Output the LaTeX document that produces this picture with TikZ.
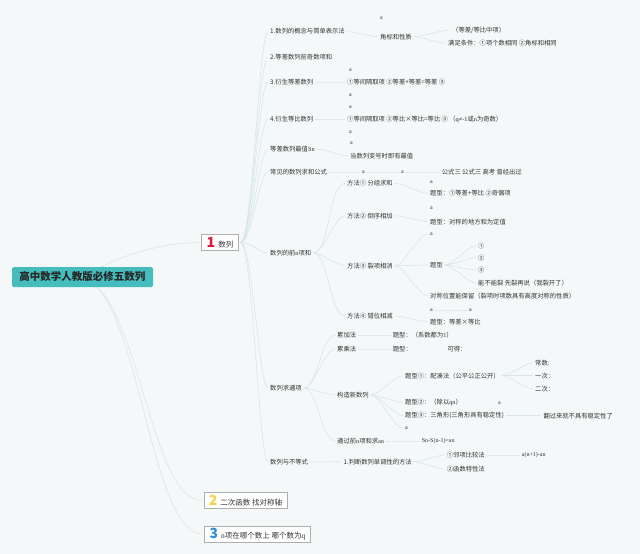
\documentclass[tikz,border=0pt]{standalone}
\usepackage{fontspec}
\setmainfont{Noto Sans CJK SC}
\newfontfamily\latf{Liberation Serif}
\definecolor{bgc}{HTML}{F4F8F8}
\definecolor{lin}{HTML}{D8E6E6}
\definecolor{txt}{HTML}{333333}
\definecolor{rootc}{HTML}{45BDBD}
\definecolor{boxb}{HTML}{AFAFAF}
\definecolor{cone}{HTML}{E2163F}
\definecolor{ctwo}{HTML}{F3D14A}
\definecolor{cthree}{HTML}{2D8FDB}
\pgfdeclarelayer{back}
\pgfdeclarelayer{bg}
\pgfsetlayers{back,bg,main}
\tikzset{
  tx/.style={anchor=west, inner sep=0pt, font=\fontsize{6.3}{7}\selectfont, text=txt},
  txa/.style={anchor=west, inner sep=0pt, font=\fontsize{6}{7}\latf, text=txt},
  conn/.style={draw=lin, line width=0.6pt, shorten <=2pt, shorten >=2pt},
  rootbox/.style={fill=rootc, rounded corners=1.5pt, minimum width=141pt, minimum height=20pt, inner sep=0pt, font=\fontsize{10.5}{11}\bfseries, text=black!85},
  numbox/.style={draw=boxb, fill=white, line width=0.5pt, inner xsep=5pt, inner ysep=0pt, minimum height=16pt, font=\fontsize{7.5}{8}\selectfont, text=txt},
}
\newcommand\lk[2]{\draw[conn] (#1.east) to[out=0,in=180,looseness=0.6] (#2.west);}
\newcommand\spineto[1]{\draw[conn] (bone.east) .. controls +(14,0) and +(-11,0) .. (#1.west);}
\newcommand\numf{\fontsize{14}{14}\bfseries}
\begin{document}
\begin{tikzpicture}[x=1pt,y=-1pt]
\begin{pgfonlayer}{back}
\fill[bgc] (0,0) rectangle (640,554);
\end{pgfonlayer}
\useasboundingbox (0,0) rectangle (640,554);

% root and main boxes
\node[rootbox] (root) at (82.5,277) {高中数学人教版必修五数列};
\node[numbox] (bone) at (220,242.5) {{\numf\color{cone}1}\hspace{3pt}数列};
\node[numbox] (btwo) at (245.5,500.5) {{\numf\color{ctwo}2}\hspace{3pt}二次函数 找对称轴};
\node[numbox] (bthree) at (257.5,534) {{\numf\color{cthree}3}\hspace{3pt}{\latf n}项在哪个数上 哪个数为{\latf q}};

% level 1
\node[tx] (n1) at (270,31.5) {1.数列的概念与简单表示法};
\node[tx] (n2) at (270,57) {2.等差数列前奇数项和};
\node[tx] (n3) at (270,82) {3.衍生等差数列};
\node[tx] (n4) at (270,119) {4.衍生等比数列};
\node[tx] (n5) at (270,149) {等差数列最值{\latf Sn}};
\node[tx] (n6) at (270,172) {常见的数列求和公式};
\node[tx] (n7) at (270,253) {数列的前{\latf n}项和};
\node[tx] (n8) at (270,388) {数列求通项};
\node[tx] (n9) at (270,462) {数列与不等式};

% branch 1
\node[txa] (n1a) at (380,17.7) {a};
\node[tx] (n1b) at (380,36.7) {角标和性质};
\node[tx] (n1b1) at (452,30) {（等差/等比中项）};
\node[tx] (n1b2) at (448,43.3) {满足条件：①项个数相同 ②角标和相同};

% branch 3, 4
\node[txa] (n3a) at (349,70) {a};
\node[tx] (n3b) at (347,82) {①等间隔取项 ②等差+等差=等差 ③};
\node[txa] (n3c) at (349,95) {a};
\node[txa] (n4a) at (349,107.3) {a};
\node[tx] (n4b) at (347,119) {①等间隔取项 ②等比×等比=等比 ③ （{\latf q≠-1}或{\latf n}为奇数）};
\node[txa] (n4c) at (349,131.7) {a};

% branch 5, 6
\node[txa] (n5a) at (350,143.3) {a};
\node[tx] (n5b) at (350,156) {当数列变号时即有最值};
\node[txa] (n6a) at (362,172) {a};
\node[txa] (n6b) at (401,172) {a};
\node[tx] (n6c) at (441.7,172) {公式三 公式三 高考 曾经出过};

% branch 7
\node[tx] (m1) at (347,183.3) {方法① 分组求和};
\node[txa] (m1a) at (430,182.3) {a};
\node[tx] (m1b) at (430,193.3) {题型：①等差+等比 ②奇偶项};
\node[tx] (m2) at (347,215.7) {方法② 倒序相加};
\node[txa] (m2a) at (430,208.3) {a};
\node[tx] (m2b) at (430,221.7) {题型：对称的地方和为定值};
\node[tx] (m3) at (347,265.7) {方法③ 裂项相消};
\node[txa] (m3a) at (430,234) {a};
\node[tx] (m3b) at (430,265) {题型};
\node[tx] (m3b1) at (478,245.7) {①};
\node[tx] (m3b2) at (478,257.7) {②};
\node[tx] (m3b3) at (478,270) {③};
\node[tx] (m3b4) at (478,283.3) {能不能裂 先裂再说（我裂开了）};
\node[tx] (m3c) at (430,296) {对称位置能保留（裂项时项数具有高度对称的性质）};
\node[tx] (m4) at (347,316) {方法④ 错位相减};
\node[txa] (m4a) at (430,310) {a};
\node[txa] (m4b) at (469,310) {a};
\node[tx] (m4c) at (430,321.7) {题型：等差×等比};

% branch 8
\node[tx] (p1) at (337,335) {累加法};
\node[tx] (p1a) at (392.7,335) {题型：（系数都为{\latf 1}）};
\node[tx] (p2) at (337,349) {累乘法};
\node[tx] (p2a) at (392.7,349) {题型：};
\node[tx] (p2b) at (447.3,349) {可得：};
\node[tx] (p3) at (337,395) {构造新数列};
\node[tx] (q1) at (405,375.7) {题型①：配凑法（公平公正公开）};
\node[tx] (q1a) at (535,362.7) {常数:};
\node[tx] (q1b) at (535,375.7) {一次：};
\node[tx] (q1c) at (535,389) {二次：};
\node[tx] (q2) at (405,402.7) {题型②：（除以{\latf qn}）};
\node[txa] (q2a) at (498,402.7) {a};
\node[tx] (q3) at (405,415.7) {题型③：三角形(三角形具有稳定性)};
\node[tx] (q3a) at (543.3,415.7) {翻过来就不具有稳定性了};
\node[txa] (q4) at (405,428.3) {a};
\node[tx] (p4) at (337,441) {通过前{\latf n}项和求{\latf an}};
\node[txa] (p4a) at (421.7,441) {Sn-S(n-1)=an};

% branch 9
\node[tx] (r1) at (343.3,461.7) {1.判断数列单调性的方法};
\node[tx] (r1a) at (446.7,455) {①邻项比较法};
\node[txa] (r1a1) at (521.7,455) {a(n+1)-an};
\node[tx] (r1b) at (446.7,469) {②函数特性法};

\begin{pgfonlayer}{bg}
\draw[conn] (root.center) .. controls (125,252) and (165,243) .. (bone.west);
\draw[conn] (root.center) .. controls (140,300) and (150,500) .. (btwo.west);
\draw[conn] (root.center) .. controls (140,300) and (150,534) .. (bthree.west);
\spineto{n1}\spineto{n2}\spineto{n3}\spineto{n4}\spineto{n5}\spineto{n6}\spineto{n7}\spineto{n8}\spineto{n9}
\lk{n1}{n1b}\lk{n1b}{n1b1}\lk{n1b}{n1b2}
\lk{n3}{n3b}\lk{n4}{n4b}
\lk{n5}{n5b}
\lk{n6}{n6a}\lk{n6a}{n6b}\lk{n6b}{n6c}
\lk{n7}{m1}\lk{n7}{m2}\lk{n7}{m3}\lk{n7}{m4}
\lk{m1}{m1b}\lk{m2}{m2b}
\lk{m3}{m3a}\lk{m3}{m3b}\lk{m3}{m3c}
\lk{m3b}{m3b1}\lk{m3b}{m3b2}\lk{m3b}{m3b3}\lk{m3b}{m3b4}
\lk{m4}{m4c}\lk{m4a}{m4b}
\lk{n8}{p1}\lk{n8}{p2}\lk{n8}{p3}\lk{n8}{p4}
\lk{p1}{p1a}\lk{p2}{p2a}
\lk{p3}{q1}\lk{p3}{q2}\lk{p3}{q3}\lk{p3}{q4}
\lk{q1}{q1a}\lk{q1}{q1b}\lk{q1}{q1c}
\lk{q3}{q3a}
\lk{p4}{p4a}
\lk{n9}{r1}\lk{r1}{r1a}\lk{r1}{r1b}\lk{r1a}{r1a1}
\end{pgfonlayer}
\end{tikzpicture}
\end{document}
